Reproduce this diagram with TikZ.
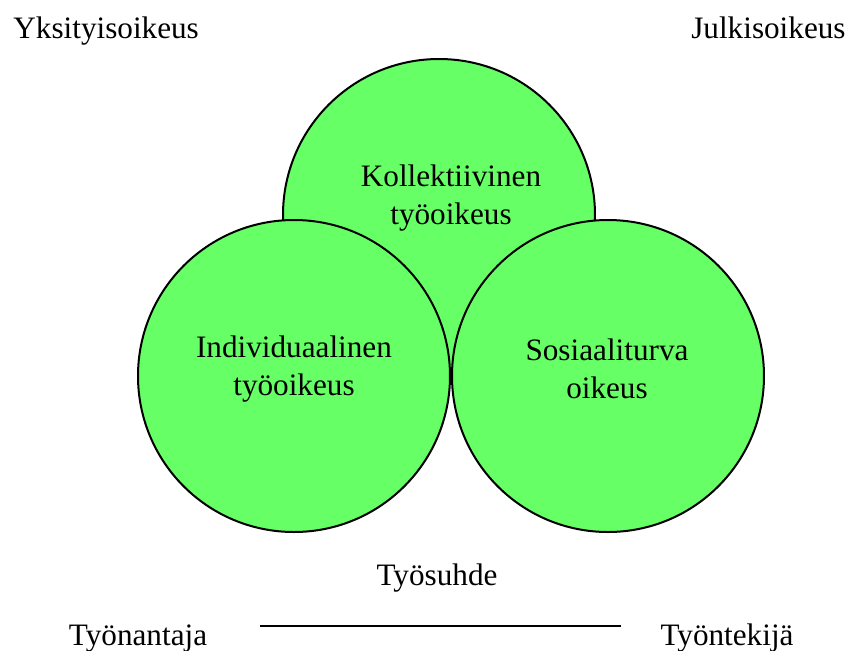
\documentclass[tikz,border=0pt]{standalone}
\usepackage{fontspec}
\setmainfont{Liberation Serif}
\usepackage{tikz}
\usetikzlibrary{calc,positioning}

\definecolor{alagreen}{RGB}{102,255,102}
\tikzset{
  ala/.style={circle, draw=black, line width=1pt, fill=alagreen, minimum size=156pt, inner sep=0pt},
  txt/.style={inner sep=0pt, align=center, font=\fontsize{15.6}{18.8}\selectfont}
}

\begin{document}
\begin{tikzpicture}[x=0.5pt, y=-0.5pt]
\useasboundingbox (0,0) rectangle (859,650);

% kolme osa-aluetta
\node[ala] (kol) at (439,215) {};
\foreach \x/\nimi in {294/ind,608/sos}
{
\node[ala] (\nimi) at (\x,376) {};
}

\node[txt] (kolt) at (451,198) {Kollektiivinen\\työoikeus};
\node[txt] (indt) at (294,369) {Individuaalinen\\työoikeus};
\node[txt] (sost) at (607,369) {Sosiaaliturva\\oikeus};

\node[txt, anchor=base west] (yks) at (13,38) {Yksityisoikeus};
\node[txt, anchor=base east] (julk) at (846,38) {Julkisoikeus};

% työsuhde
\node[txt, anchor=base] (suhde) at (437,585) {Työsuhde};
\node[txt, anchor=base] (antaja) at (138,645) {Työnantaja};
\node[txt, anchor=base] (tekija) at (727,645) {Työntekijä};
\coordinate (v) at (260,626);
\coordinate (o) at (621,626);
\draw[line width=1.1pt] (v) -- (o);
\end{tikzpicture}
\end{document}
